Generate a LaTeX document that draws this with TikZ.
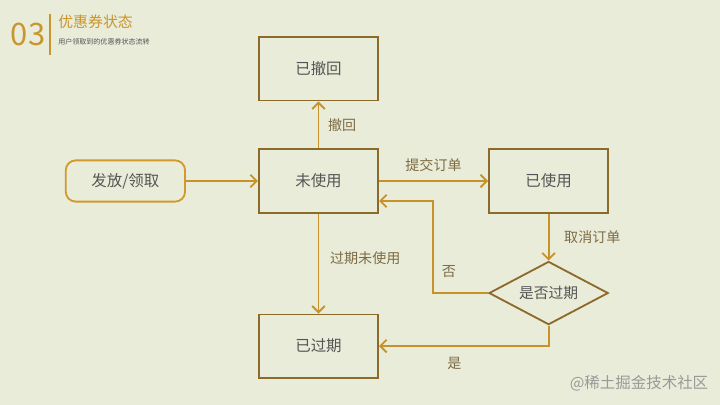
\documentclass[tikz,border=0pt]{standalone}
\usepackage{fontspec}
\setmainfont{Noto Sans CJK SC}
\usetikzlibrary{positioning, shapes.geometric, arrows.meta}
\definecolor{bg}{HTML}{E9ECD9}
\definecolor{boxline}{HTML}{8C6A2C}
\definecolor{flow}{HTML}{C8922A}
\definecolor{startline}{HTML}{D19A2B}
\definecolor{boxtext}{HTML}{555555}
\definecolor{lbltext}{HTML}{7D6B43}
\definecolor{gold}{HTML}{C9952E}
\tikzset{
	state/.style={draw=boxline, rectangle, line width=1.3pt, minimum width=2.98cm, minimum height=1.58cm, text=boxtext, font=\fontsize{11}{13}\selectfont},
	start/.style={draw=startline, rectangle, rounded corners=7pt, line width=1.3pt, minimum width=2.98cm, minimum height=1.03cm, text=boxtext, font=\fontsize{11}{13}\selectfont},
	decision/.style={draw=boxline, diamond, aspect=1.86, inner sep=0pt, line width=1.3pt, minimum width=2.98cm, minimum height=1.58cm, text=boxtext, font=\fontsize{10.5}{12}\selectfont},
	% for edge labels
	lbl/.style={text=lbltext, font=\fontsize{10}{12}\selectfont},
}

\begin{document}
\begin{tikzpicture}[x=0.025cm, y=-0.025cm]
				\useasboundingbox[fill=bg] (0,0) rectangle (720,405);
				
				% header
				\node (num) [text=gold, font=\fontsize{22}{24}\selectfont] at (28,34) {03};
				\coordinate (bartop) at (50,14);
				\coordinate (barbot) at (50,55);
				\draw[gold, line width=1.3pt] (bartop) -- (barbot);
				\node (title) [anchor=west, inner sep=0pt, text=gold, font=\fontsize{10.6}{12}\selectfont] at (58,22) {优惠券状态};
				\node (subtitle) [anchor=west, inner sep=0pt, text=boxtext, font=\fontsize{5}{6}\selectfont] at (58,42) {用户领取到的优惠券状态流转};
				
				\node (unused) [state] at (318.5,181) {未使用};
				\node (revoked) [state, above=1.175cm of unused] {已撤回};
				\node (used) [state, right=2.725cm of unused] {已使用};
				\node (expired) [state, below=2.5cm of unused] {已过期};
				\node (issue) [start, left=1.8cm of unused] {发放/领取};
				\node (check) [decision, below=1.175cm of used] {是否过期};
				
				\coordinate (backin) at ([yshift=-0.5cm]unused.east);
				
				\node (mark) [text=black!40, font=\fontsize{11}{13}\selectfont] at (639,383) {@稀土掘金技术社区};
				
				\begin{scope}[flow, line width=1.3pt, -{Straight Barb[length=4.5pt, width=9pt]}]
					\draw (issue) -- (unused);
					\draw (unused) -- node[lbl, right, xshift=0.1cm] {撤回} (revoked);
					\draw (unused) -- node[lbl, above, yshift=0.1cm] {提交订单} (used);
					\draw (used) -- node[lbl, right, xshift=0.25cm] {取消订单} (check);
					\draw (unused) -- node[lbl, right, xshift=0.15cm, pos=0.45] {过期未使用} (expired);
					\draw (check.west) -- node[lbl, above=0.25cm, pos=0.71] {否} ++(-55,0) |- (backin);
					\draw (check.south) |- node[lbl, below=0.15cm, pos=0.778] {是} (expired.east);
				\end{scope}
			\end{tikzpicture}
\end{document}
